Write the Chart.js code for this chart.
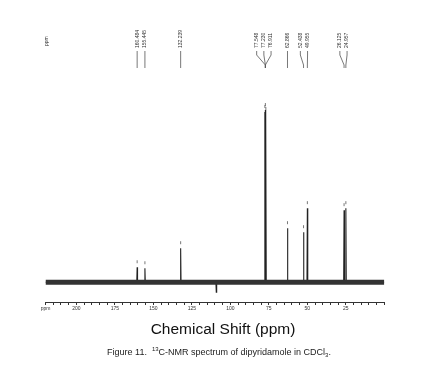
<!doctype html>
<html lang="en">
  <head>
    <meta charset="utf-8">
    <title>13C-NMR spectrum of dipyridamole</title>
    <style>
      * {
        margin: 0;
        padding: 0;
      }
      body {
        background: white;
      }
      .chartBox {
        width: 425px;
        height: 374px;
      }
    </style>
  </head>
  <body>
    <div class="chartBox">
      <canvas id="nmrChart" width="425" height="374"></canvas>
    </div>

    <script src="https://cdn.jsdelivr.net/npm/chart.js"></script>
    <script>
    // peak data
    const shifts = [160.484, 155.445, 132.239, 77.548, 77.230, 76.911, 62.866, 52.438, 49.955, 26.125, 24.957];
    const intensity = [15, 14, 34, 170, 172, 168, 54, 50, 74, 72, 74];
    const peakLabels = ['160.484', '155.445', '132.239', '77.548', '77.230', '76.911', '62.866', '52.438', '49.955', '26.125', '24.957'];
    // small negative artefact below the baseline
    const dipShifts = [109.1];
    const dipIntensity = [-10];
    const axisMin = 0;
    const axisMax = 220;
    const xTitle = 'Chemical Shift (ppm)';
    const captionParts = ['Figure 11.  ', '13', 'C-NMR spectrum of dipyridamole in CDCl', '3', '.'];

    // build the spectrum line: each peak is a narrow spike from the baseline
    const halfWidth = 0.25;
    let spectrum = [{x: axisMax, y: 0}];
    let allPeaks = shifts.map((s, i) => ({s: s, h: intensity[i]}))
      .concat(dipShifts.map((s, i) => ({s: s, h: dipIntensity[i]})))
      .sort((a, b) => b.s - a.s);
    allPeaks.forEach(p => {
      spectrum.push({x: p.s + halfWidth, y: 0});
      spectrum.push({x: p.s, y: p.h});
      spectrum.push({x: p.s - halfWidth, y: 0});
    });
    spectrum.push({x: axisMin, y: 0});

    const baseline = [{x: axisMax, y: 0}, {x: axisMin, y: 0}];

    // labels above the plot, fanned out when peaks sit close together
    const peakLabelPlugin = {
      id: 'peakLabels',
      afterDraw(chart) {
        const ctx = chart.ctx;
        const xs = chart.scales.x;
        const ys = chart.scales.y;
        const gap = 7.2;

        // order by pixel position, then spread clusters
        let items = shifts.map((s, i) => ({px: xs.getPixelForValue(s), text: peakLabels[i], h: intensity[i]}))
          .sort((a, b) => a.px - b.px);
        const mean = g => g.items.reduce((t, v) => t + v.px, 0) / g.items.length;
        let groups = [];
        items.forEach(it => {
          groups.push({items: [it]});
          while (groups.length > 1) {
            const g2 = groups[groups.length - 1];
            const g1 = groups[groups.length - 2];
            const right1 = mean(g1) + (g1.items.length - 1) * gap / 2;
            const left2 = mean(g2) - (g2.items.length - 1) * gap / 2;
            if (left2 - right1 < gap) {
              g1.items = g1.items.concat(g2.items);
              groups.pop();
            } else break;
          }
        });
        groups.forEach(g => {
          const m = mean(g);
          const n = g.items.length;
          const c = n > 1 ? m - 1.5 : m;
          g.items.forEach((it, k) => {
            it.lx = c + (k - (n - 1) / 2) * gap;
            it.cx = n > 2 ? m : it.px;
          });
        });

        ctx.save();
        ctx.strokeStyle = '#555';
        ctx.lineWidth = 0.8;
        ctx.fillStyle = '#333';
        ctx.font = '5px "Liberation Sans", Arial, sans-serif';
        items.forEach(it => {
          ctx.beginPath();
          ctx.moveTo(it.lx, 51);
          ctx.lineTo(it.lx, 55);
          ctx.lineTo(it.cx, 65);
          ctx.lineTo(it.cx, 68);
          ctx.stroke();

          ctx.save();
          ctx.translate(it.lx, 48);
          ctx.rotate(-Math.PI / 2);
          ctx.textAlign = 'left';
          ctx.textBaseline = 'middle';
          ctx.fillText(it.text, 0, 0);
          ctx.restore();

          // small marker just above each peak top
          const top = ys.getPixelForValue(it.h);
          ctx.beginPath();
          ctx.moveTo(it.px, top - 7);
          ctx.lineTo(it.px, top - 4);
          ctx.stroke();
        });

        // ppm tag top left
        ctx.save();
        ctx.translate(47, 46);
        ctx.rotate(-Math.PI / 2);
        ctx.textAlign = 'left';
        ctx.textBaseline = 'middle';
        ctx.fillText('ppm', 0, 0);
        ctx.restore();
        ctx.restore();
      }
    };

    // axis title and figure caption under the plot
    const captionPlugin = {
      id: 'caption',
      afterDraw(chart) {
        const ctx = chart.ctx;
        ctx.save();
        ctx.fillStyle = '#111';
        ctx.font = '15.5px "Liberation Sans", Arial, sans-serif';
        ctx.textAlign = 'center';
        ctx.textBaseline = 'alphabetic';
        ctx.fillText(xTitle, 223, 334);

        const big = '9px "Liberation Sans", Arial, sans-serif';
        const small = '6px "Liberation Sans", Arial, sans-serif';
        const fonts = [big, small, big, small, big];
        const shiftsY = [0, -3.5, 0, 2, 0];
        let total = 0;
        captionParts.forEach((p, i) => {
          ctx.font = fonts[i];
          total += ctx.measureText(p).width;
        });
        let x = 219 - total / 2;
        ctx.textAlign = 'left';
        ctx.fillStyle = '#222';
        captionParts.forEach((p, i) => {
          ctx.font = fonts[i];
          ctx.fillText(p, x, 354.5 + shiftsY[i]);
          x += ctx.measureText(p).width;
        });
        ctx.restore();
      }
    };

    const data = {
      datasets: [{
        label: 'baseline',
        data: baseline,
        borderColor: '#333',
        borderWidth: 5,
        pointRadius: 0
      }, {
        label: '13C spectrum',
        data: spectrum,
        borderColor: '#222',
        borderWidth: 1.1,
        pointRadius: 0,
        tension: 0
      }]
    };

    const config = {
      type: 'line',
      data,
      options: {
        responsive: false,
        animation: false,
        parsing: false,
        layout: {
          padding: {left: 45.5, right: 40.7, top: 90, bottom: 61}
        },
        plugins: {
          legend: {display: false},
          tooltip: {enabled: false}
        },
        scales: {
          x: {
            type: 'linear',
            reverse: true,
            min: axisMin,
            max: axisMax,
            border: {display: true, color: '#333', width: 1},
            grid: {drawOnChartArea: false, tickLength: 3, color: '#333'},
            ticks: {
              stepSize: 5,
              autoSkip: false,
              maxRotation: 0,
              padding: 1,
              color: '#333',
              font: {size: 5, family: '"Liberation Sans", Arial, sans-serif'},
              callback: v => v === 220 ? 'ppm' : (v % 25 === 0 && v > 0 ? String(v) : '')
            }
          },
          y: {
            display: false,
            min: -19.7,
            max: 192
          }
        }
      },
      plugins: [peakLabelPlugin, captionPlugin]
    };

    const nmrChart = new Chart(document.getElementById('nmrChart'), config);
    </script>
  </body>
</html>
